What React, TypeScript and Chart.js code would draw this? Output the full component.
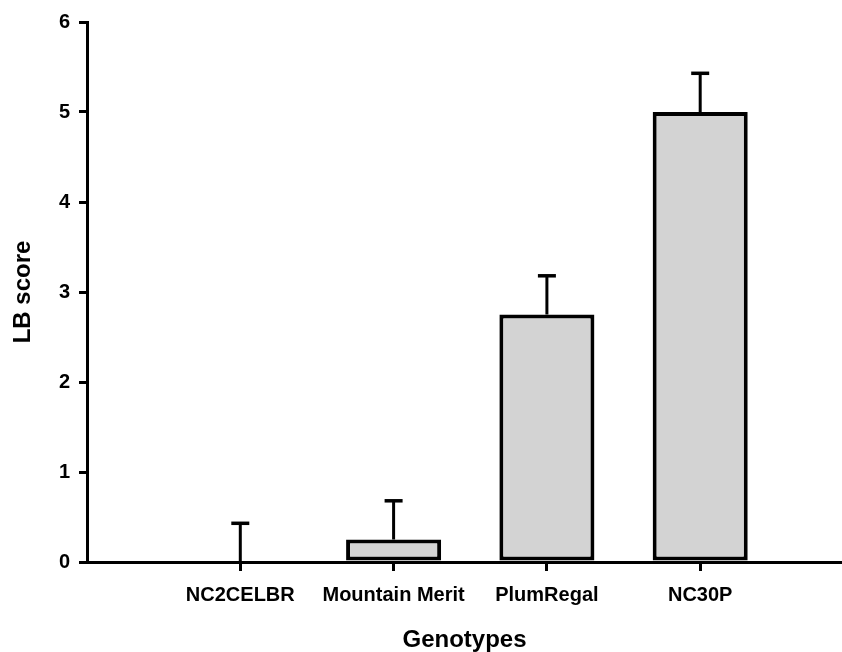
import React, { useEffect, useRef } from "react";
import { Chart, registerables } from "chart.js";

Chart.register(...registerables);

const categories = ["NC2CELBR", "Mountain Merit", "PlumRegal", "NC30P"];
const categoryPositions = [1, 2, 3, 4];
const lbScores = [0, 0.25, 2.75, 5];
const lbErrors = [0.43, 0.43, 0.43, 0.43];
const yMin = 0;
const yMax = 6;
const xAxisMax = 4.925;

const FONT = "'Liberation Sans', Arial, Helvetica, sans-serif";

const errorBarPlugin = {
  id: "errorBars",
  afterDatasetsDraw(chart: any) {
    const ctx = chart.ctx;
    const xs = chart.scales.x;
    const ys = chart.scales.y;
    ctx.save();
    ctx.strokeStyle = "#000";
    ctx.lineCap = "butt";
    lbScores.forEach((v, i) => {
      const x = xs.getPixelForValue(categoryPositions[i]);
      const y0 = ys.getPixelForValue(v);
      const y1 = ys.getPixelForValue(v + lbErrors[i]);
      ctx.lineWidth = 3;
      ctx.beginPath();
      ctx.moveTo(x, y0);
      ctx.lineTo(x, y1);
      ctx.stroke();
      ctx.lineWidth = 3.5;
      ctx.beginPath();
      ctx.moveTo(x - 9, y1);
      ctx.lineTo(x + 9, y1);
      ctx.stroke();
    });
    ctx.restore();
  },
};

export default function App() {
  const canvasRef = useRef<HTMLCanvasElement | null>(null);

  useEffect(() => {
    if (!canvasRef.current) return;
    const chart = new Chart(canvasRef.current, {
      type: "bar",
      data: {
        datasets: [
          {
            label: "LB score",
            data: lbScores.map((y, i) => ({ x: categoryPositions[i], y })),
            backgroundColor: "#d3d3d3",
            borderColor: "#000",
            borderWidth: 4,
            borderSkipped: false,
            barPercentage: 0.62,
            categoryPercentage: 1,
          },
        ],
      },
      options: {
        responsive: false,
        animation: false,
        layout: { padding: { top: 22, right: 0, bottom: 0, left: 0 } },
        plugins: {
          legend: { display: false },
          tooltip: { enabled: false },
        },
        scales: {
          x: {
            type: "linear",
            min: 0,
            max: xAxisMax,
            offset: false,
            afterBuildTicks: (scale: any) => {
              scale.ticks = categoryPositions.map((v) => ({ value: v }));
            },
            afterFit: (scale: any) => {
              scale.height = 90;
            },
            border: { display: true, color: "#000", width: 3 },
            grid: {
              offset: false,
              drawOnChartArea: false,
              drawTicks: true,
              tickLength: 9,
              color: "#000",
              lineWidth: 3,
            },
            ticks: {
              autoSkip: false,
              maxRotation: 0,
              padding: 12,
              color: "#000",
              font: { family: FONT, size: 20, weight: "bold" },
              callback: (value: any) => {
                const idx = categoryPositions.indexOf(Number(value));
                return idx >= 0 ? categories[idx] : "";
              },
            },
            title: {
              display: true,
              text: "Genotypes",
              color: "#000",
              font: { family: FONT, size: 24, weight: "bold", lineHeight: 1 },
              padding: { top: 0, bottom: 0 },
            },
          },
          y: {
            min: yMin,
            max: yMax,
            afterFit: (scale: any) => {
              scale.width = 87;
            },
            border: { display: true, color: "#000", width: 3 },
            grid: {
              drawOnChartArea: false,
              drawTicks: true,
              tickLength: 8,
              color: "#000",
              lineWidth: 3,
            },
            ticks: {
              stepSize: 1,
              padding: 9,
              color: "#000",
              font: { family: FONT, size: 20, weight: "bold" },
            },
            title: {
              display: true,
              text: "LB score",
              color: "#000",
              font: { family: FONT, size: 24, weight: "bold", lineHeight: 1 },
              padding: { top: 11, bottom: 0 },
            },
          },
        },
      },
      plugins: [errorBarPlugin],
    } as any);
    return () => chart.destroy();
  }, []);

  return (
    <div style={{ position: "absolute", left: 0, top: 0, width: 842, height: 652, background: "#fff" }}>
      <canvas ref={canvasRef} width={842} height={652} style={{ display: "block" }} />
    </div>
  );
}
